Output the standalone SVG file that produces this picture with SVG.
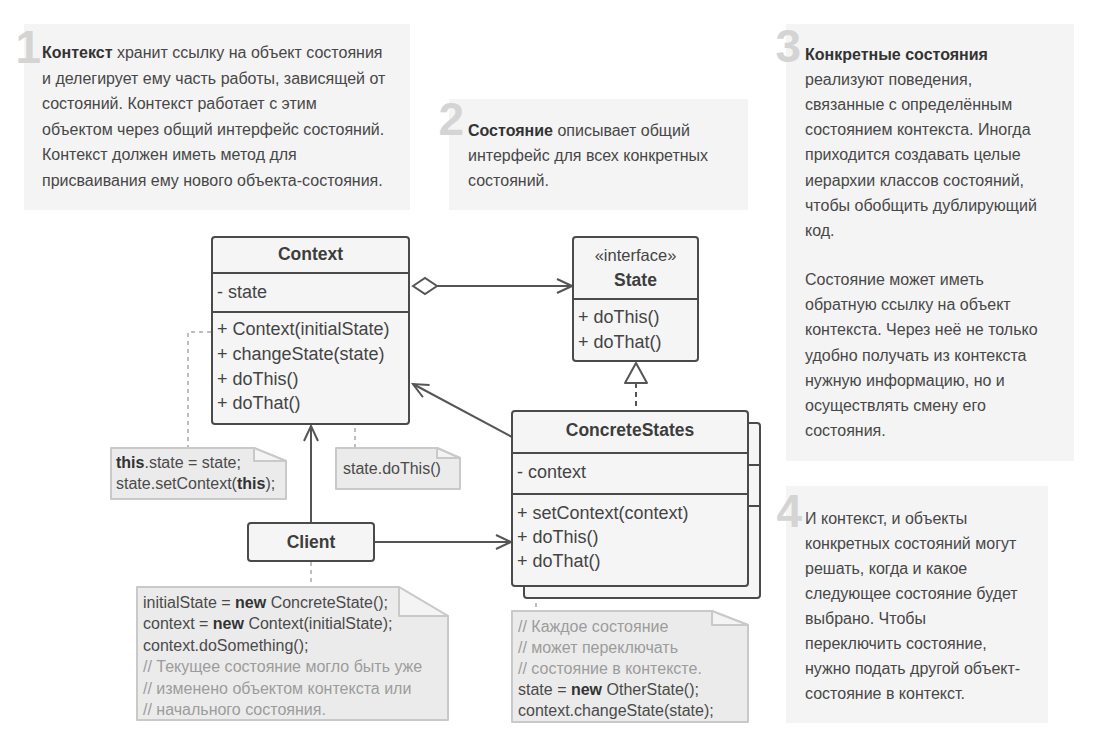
<svg xmlns="http://www.w3.org/2000/svg" width="1102" height="748" viewBox="0 0 1102 748">
  <defs>
    <style>
      .panel { fill: #f4f4f4; }
      .num { font-family: "Liberation Sans", Arial, sans-serif; font-weight: bold; font-size: 46px; fill: #d4d4d4; text-anchor: end; }
      .ptxt { font-family: "Liberation Sans", Arial, sans-serif; font-size: 16px; fill: #474747; }
      .b { font-weight: bold; fill: #333; }
      .box { fill: #f5f5f5; stroke: #4a4a4a; stroke-width: 2; }
      .div { stroke: #4a4a4a; stroke-width: 2; fill: none; }
      .head { font-family: "Liberation Sans", Arial, sans-serif; font-size: 17.5px; font-weight: bold; fill: #3d3d3d; text-anchor: middle; }
      .mem { font-family: "Liberation Sans", Arial, sans-serif; font-size: 18px; fill: #444; }
      .stereo { font-family: "Liberation Sans", Arial, sans-serif; font-size: 16.5px; fill: #444; text-anchor: middle; }
      .note { fill: #ebebeb; stroke: #c9c9c9; stroke-width: 2; stroke-linejoin: round; }
      .fold { fill: #f4f4f4; stroke: #c9c9c9; stroke-width: 2; stroke-linejoin: round; }
      .ntxt { font-family: "Liberation Sans", Arial, sans-serif; font-size: 16px; fill: #4a4a4a; }
      .cmt { fill: #9c9c9c; }
      .nb { font-weight: bold; fill: #333; }
      .link { stroke: #555; stroke-width: 2; fill: none; }
      .dash { stroke: #bdbdbd; stroke-width: 2; fill: none; stroke-dasharray: 4 4; }
    </style>
    <marker id="open" viewBox="-18 -10 20 20" refX="0" refY="0" markerWidth="20" markerHeight="20" orient="auto" markerUnits="userSpaceOnUse">
      <path d="M-15,-7 L0,0 L-15,7" fill="none" stroke="#555" stroke-width="2"/>
    </marker>
  </defs>

  <rect width="1102" height="748" fill="#ffffff"/>

  <!-- explanation panels -->
  <g id="panel1">
    <rect class="panel" x="24" y="24" width="386" height="186"/>
    <text class="num" x="41" y="63">1</text>
    <text class="ptxt" x="42" y="58"><tspan class="b">Контекст</tspan> хранит ссылку на объект состояния</text>
    <text class="ptxt" x="42" y="83.5">и делегирует ему часть работы, зависящей от</text>
    <text class="ptxt" x="42" y="109">состояний. Контекст работает с этим</text>
    <text class="ptxt" x="42" y="134.5">объектом через общий интерфейс состояний.</text>
    <text class="ptxt" x="42" y="160">Контекст должен иметь метод для</text>
    <text class="ptxt" x="42" y="185.5">присваивания ему нового объекта-состояния.</text>
  </g>

  <g id="panel2">
    <rect class="panel" x="449" y="99" width="299" height="111"/>
    <text class="num" x="464" y="135">2</text>
    <text class="ptxt" x="468" y="136"><tspan class="b">Состояние</tspan> описывает общий</text>
    <text class="ptxt" x="468" y="161">интерфейс для всех конкретных</text>
    <text class="ptxt" x="468" y="186">состояний.</text>
  </g>

  <g id="panel3">
    <rect class="panel" x="786" y="24" width="288" height="437"/>
    <text class="num" x="801" y="62">3</text>
    <text class="ptxt" x="805" y="60"><tspan class="b">Конкретные состояния</tspan></text>
    <text class="ptxt" x="805" y="85">реализуют поведения,</text>
    <text class="ptxt" x="805" y="110">связанные с определённым</text>
    <text class="ptxt" x="805" y="135">состоянием контекста. Иногда</text>
    <text class="ptxt" x="805" y="160">приходится создавать целые</text>
    <text class="ptxt" x="805" y="185.5">иерархии классов состояний,</text>
    <text class="ptxt" x="805" y="210.5">чтобы обобщить дублирующий</text>
    <text class="ptxt" x="805" y="235.5">код.</text>
    <text class="ptxt" x="805" y="285">Состояние может иметь</text>
    <text class="ptxt" x="805" y="310">обратную ссылку на объект</text>
    <text class="ptxt" x="805" y="335">контекста. Через неё не только</text>
    <text class="ptxt" x="805" y="360.5">удобно получать из контекста</text>
    <text class="ptxt" x="805" y="385.5">нужную информацию, но и</text>
    <text class="ptxt" x="805" y="410.5">осуществлять смену его</text>
    <text class="ptxt" x="805" y="435.5">состояния.</text>
  </g>

  <g id="panel4">
    <rect class="panel" x="786" y="486" width="262" height="237"/>
    <text class="num" x="802" y="527">4</text>
    <text class="ptxt" x="805" y="524">И контекст, и объекты</text>
    <text class="ptxt" x="805" y="549">конкретных состояний могут</text>
    <text class="ptxt" x="805" y="574">решать, когда и какое</text>
    <text class="ptxt" x="805" y="599">следующее состояние будет</text>
    <text class="ptxt" x="805" y="624">выбрано. Чтобы</text>
    <text class="ptxt" x="805" y="649">переключить состояние,</text>
    <text class="ptxt" x="805" y="674">нужно подать другой объект-</text>
    <text class="ptxt" x="805" y="699">состояние в контекст.</text>
  </g>

  <!-- connectors -->
  <g id="connectors">
    <!-- aggregation Context -> State -->
    <line class="link" x1="437" y1="286" x2="572" y2="286" marker-end="url(#open)"/>
    <polygon points="413,286 425,278 437,286 425,294" fill="#fff" stroke="#555" stroke-width="2"/>
    <!-- realization ConcreteStates -> State -->
    <line x1="636" y1="383" x2="636" y2="411" stroke="#555" stroke-width="2" stroke-dasharray="5 4"/>
    <polygon points="636,363 625,383 647,383" fill="#fff" stroke="#555" stroke-width="2" stroke-linejoin="round"/>
    <!-- ConcreteStates -> Context -->
    <line class="link" x1="512" y1="437" x2="413" y2="384" marker-end="url(#open)"/>
    <!-- Client -> Context -->
    <line class="link" x1="311" y1="523" x2="311" y2="426" marker-end="url(#open)"/>
    <!-- Client -> ConcreteStates -->
    <line class="link" x1="374" y1="542" x2="511" y2="542" marker-end="url(#open)"/>
    <!-- note links -->
    <polyline class="dash" points="211,332 188,332 188,448"/>
    <circle cx="317" cy="381" r="3.5" fill="#f5f5f5" stroke="#bdbdbd" stroke-width="1.5"/>
    <polyline class="dash" points="322,381 355,381 355,448"/>
    <line class="dash" x1="311" y1="562" x2="311" y2="587"/>
    <line class="dash" x1="536" y1="587" x2="536" y2="611"/>
  </g>

  <!-- classes -->
  <g id="context">
    <rect class="box" x="212" y="237" width="197" height="187" rx="3"/>
    <line class="div" x1="212" y1="273" x2="409" y2="273"/>
    <line class="div" x1="212" y1="312" x2="409" y2="312"/>
    <text class="head" x="310.5" y="260">Context</text>
    <text class="mem" x="217" y="298">- state</text>
    <text class="mem" x="217" y="335">+ Context(initialState)</text>
    <text class="mem" x="217" y="360">+ changeState(state)</text>
    <text class="mem" x="217" y="385">+ doThis()</text>
    <text class="mem" x="217" y="409">+ doThat()</text>
  </g>

  <g id="state">
    <rect class="box" x="573" y="237" width="125" height="124" rx="3"/>
    <line class="div" x1="573" y1="299" x2="698" y2="299"/>
    <text class="stereo" x="635.5" y="261">«interface»</text>
    <text class="head" x="635.5" y="286">State</text>
    <text class="mem" x="578" y="323">+ doThis()</text>
    <text class="mem" x="578" y="348">+ doThat()</text>
  </g>

  <g id="concreteStates">
    <rect class="box" x="524" y="423" width="236" height="175" rx="3"/>
    <line class="div" x1="748" y1="465" x2="760" y2="465"/>
    <line class="div" x1="748" y1="506" x2="760" y2="506"/>
    <rect class="box" x="512" y="411" width="236" height="175" rx="3"/>
    <line class="div" x1="512" y1="453" x2="748" y2="453"/>
    <line class="div" x1="512" y1="494" x2="748" y2="494"/>
    <text class="head" x="630" y="436">ConcreteStates</text>
    <text class="mem" x="517" y="478">- context</text>
    <text class="mem" x="517" y="519">+ setContext(context)</text>
    <text class="mem" x="517" y="543">+ doThis()</text>
    <text class="mem" x="517" y="567">+ doThat()</text>
  </g>

  <g id="client">
    <rect class="box" x="248" y="523" width="126" height="38" rx="3"/>
    <text class="head" x="311" y="548">Client</text>
  </g>

  <!-- notes -->
  <g id="noteSetState">
    <path class="note" d="M111,448 H254 L286,461 V499 H111 Z"/>
    <path class="fold" d="M254,448 V461 H286 Z"/>
    <text class="ntxt" x="116" y="468"><tspan class="nb">this</tspan>.state = state;</text>
    <text class="ntxt" x="116" y="489">state.setContext(<tspan class="nb">this</tspan>);</text>
  </g>

  <g id="noteDoThis">
    <path class="note" d="M336,448 H437 L460,458 V489 H336 Z"/>
    <path class="fold" d="M437,448 V458 H460 Z"/>
    <text class="ntxt" x="343" y="474">state.doThis()</text>
  </g>

  <g id="noteClient">
    <path class="note" d="M137,587 H399 L448,616 V720 H137 Z"/>
    <path class="fold" d="M399,587 V616 H448 Z"/>
    <text class="ntxt" x="143" y="608">initialState = <tspan class="nb">new</tspan> ConcreteState();</text>
    <text class="ntxt" x="143" y="629">context = <tspan class="nb">new</tspan> Context(initialState);</text>
    <text class="ntxt" x="143" y="650.5">context.doSomething();</text>
    <text class="ntxt cmt" x="143" y="672">// Текущее состояние могло быть уже</text>
    <text class="ntxt cmt" x="143" y="693.5">// изменено объектом контекста или</text>
    <text class="ntxt cmt" x="143" y="715">// начального состояния.</text>
  </g>

  <g id="noteConcrete">
    <path class="note" d="M512,611 H712 L748,625 V722 H512 Z"/>
    <path class="fold" d="M712,611 V625 H748 Z"/>
    <text class="ntxt cmt" x="518" y="632">// Каждое состояние</text>
    <text class="ntxt cmt" x="518" y="653">// может переключать</text>
    <text class="ntxt cmt" x="518" y="674">// состояние в контексте.</text>
    <text class="ntxt" x="518" y="695">state = <tspan class="nb">new</tspan> OtherState();</text>
    <text class="ntxt" x="518" y="716">context.changeState(state);</text>
  </g>
</svg>
